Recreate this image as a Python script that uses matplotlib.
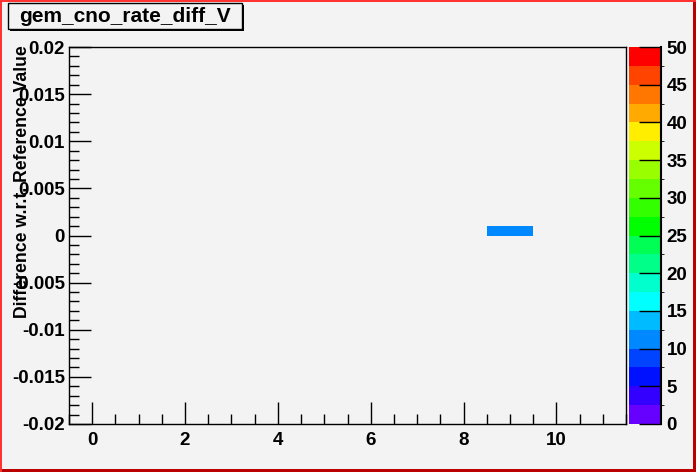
import numpy as np
import matplotlib
matplotlib.use("Agg")
import matplotlib.pyplot as plt
from matplotlib.colors import ListedColormap, BoundaryNorm
from matplotlib.patches import Rectangle
from matplotlib.ticker import MultipleLocator

# histogram content (filled cells only)
x_bins = [9]
y_lows = [0.0]
counts = [11]

title = "gem_cno_rate_diff_V"
y_title = "Difference w.r.t. Reference Value"
x_edges = np.arange(-0.5, 12.0, 1.0)
y_edges = np.linspace(-0.02, 0.02, 41)
z_levels = np.arange(0, 52.5, 2.5)

palette = ["#6600ff", "#3300ff", "#0011ff", "#0044ff", "#0088ff",
           "#00bbff", "#00ffff", "#00ffcc", "#00ff88", "#00ff55",
           "#00ff00", "#33ff00", "#66ff00", "#99ff00", "#ccff00",
           "#ffee00", "#ffaa00", "#ff7700", "#ff4400", "#ff0000"]

bg = "#f3f3f3"
plt.rcParams["font.family"] = ["Liberation Sans", "DejaVu Sans"]
plt.rcParams["font.weight"] = "bold"

W, H = 696, 472
fig = plt.figure(figsize=(W / 100, H / 100), dpi=100, facecolor=bg)

# grid of counts
Z = np.zeros((len(y_edges) - 1, len(x_edges) - 1))
for xb, yl, c in zip(x_bins, y_lows, counts):
    i = np.searchsorted(x_edges, xb) - 1
    j = int(round((yl - y_edges[0]) / 0.001))
    Z[j, i] = c
Z = np.ma.masked_equal(Z, 0)

cmap = ListedColormap(palette)
norm = BoundaryNorm(z_levels, cmap.N)

ax = fig.add_axes([69 / W, 1 - 424 / H, (626 - 69) / W, (424 - 47) / H], facecolor=bg)
mesh = ax.pcolormesh(x_edges, y_edges, Z, cmap=cmap, norm=norm)
ax.set_xlim(-0.5, 11.5)
ax.set_ylim(-0.02, 0.02)
ax.xaxis.set_major_locator(MultipleLocator(2))
ax.xaxis.set_minor_locator(MultipleLocator(0.5))
ax.yaxis.set_major_locator(MultipleLocator(0.005))
ax.yaxis.set_minor_locator(MultipleLocator(0.001))
ax.tick_params(which="both", direction="in", top=False, right=False, labelsize=13.5, width=1)
ax.tick_params(which="major", length=16)
ax.tick_params(which="minor", length=7)
ax.tick_params(axis="x", pad=6)
ax.tick_params(axis="y", pad=3)
ax.yaxis.set_major_formatter(plt.FuncFormatter(lambda v, p: "0" if abs(v) < 1e-9 else ("%g" % v)))
for s in ax.spines.values():
    s.set_linewidth(1)

fig.text(23 / W, 1 - 45 / H, y_title, rotation=90, ha="center", va="top", fontsize=12.7)

# palette axis
cax = fig.add_axes([629 / W, 1 - 424 / H, 32 / W, (424 - 47) / H])
cb = fig.colorbar(mesh, cax=cax, ticks=np.arange(0, 55, 5))
cb.outline.set_visible(False)
cax.tick_params(direction="in", length=16, labelsize=13.5, pad=4, width=1)
cax.plot([1, 1], [0, 1], transform=cax.transAxes, color="black", lw=1.5, clip_on=False)

# title box with shadow
fig.patches.append(Rectangle((10 / W, 1 - 31 / H), 234 / W, 26 / H, transform=fig.transFigure,
                             facecolor="black", edgecolor="none"))
fig.patches.append(Rectangle((8 / W, 1 - 29 / H), 234 / W, 26 / H, transform=fig.transFigure,
                             facecolor=bg, edgecolor="black", lw=1))
fig.text(125 / W, 1 - 16 / H, title, ha="center", va="center", fontsize=15)

# canvas border
fig.patches.append(Rectangle((0, 0), 2 / W, 1, transform=fig.transFigure, facecolor="#ff3333", edgecolor="none"))
fig.patches.append(Rectangle((0, 1 - 2 / H), 1, 2 / H, transform=fig.transFigure, facecolor="#ff3333", edgecolor="none"))
fig.patches.append(Rectangle((1 - 3 / W, 0), 3 / W, 1 - 2 / H, transform=fig.transFigure, facecolor="#bb0000", edgecolor="none"))
fig.patches.append(Rectangle((2 / W, 0), 1 - 2 / W, 3 / H, transform=fig.transFigure, facecolor="#bb0000", edgecolor="none"))

fig.savefig("out.png", dpi=100, facecolor=bg)
